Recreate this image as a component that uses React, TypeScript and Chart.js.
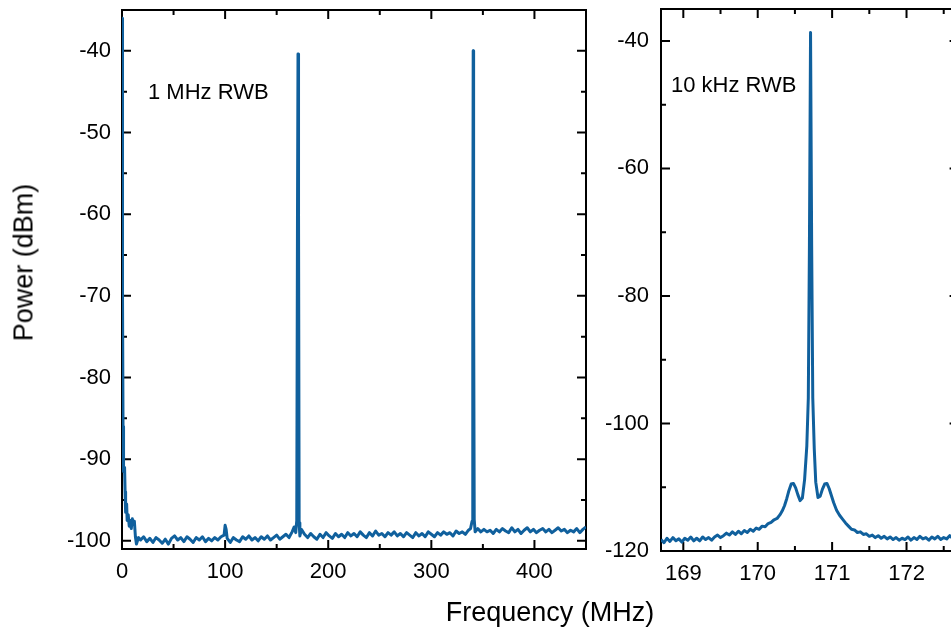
import React, { useEffect, useRef } from 'react';
import { Chart, registerables } from 'chart.js';

Chart.register(...registerables);

const FONT = '"Liberation Sans", Arial, Helvetica, sans-serif';
const LINE_COLOR = '#10609d';

// ---- Left panel (1 MHz RWB) ----
const leftFreqMHz = [
  0, 0.5, 1, 1.5, 2.5, 3, 3.5, 4.5, 5, 6, 7, 8, 9, 10, 11, 12, 13, 14, 16,
  18, 21, 24, 27, 30, 33, 36, 39, 42, 45, 48, 51, 54, 57, 60, 63, 66, 69, 72, 75, 78,
  81, 84, 87, 90, 93, 96, 99, 100, 101, 102, 105, 108, 111, 114, 117, 120, 123, 126,
  129, 132, 135, 138, 141, 144, 147, 150, 153, 156, 159, 162, 165, 167, 168.5, 169.5,
  170.2, 170.7, 171.2, 171.8, 172.5, 174, 177, 180, 183, 186, 189, 192, 195, 198,
  201, 204, 207, 210, 213, 216, 219, 222, 225, 228, 231, 234, 237, 240, 243, 246, 249,
  252, 255, 258, 261, 264, 267, 270, 273, 276, 279, 282, 285, 288, 291, 294, 297, 300,
  303, 306, 309, 312, 315, 318, 321, 324, 327, 330, 333, 336, 338, 339.5, 340.2, 340.6,
  341.0, 341.6, 342.5, 345, 348, 351, 354, 357, 360, 363, 366, 369, 372, 375, 378, 381,
  384, 387, 390, 393, 396, 399, 402, 405, 408, 411, 414, 417, 420, 423, 426, 429, 432,
  435, 438, 441, 444, 447, 450,
];
const leftPowerDbm = [
  -36, -70, -86, -91.5, -91, -94, -96.5, -95.5, -97.5, -96.8, -98.2, -97.5, -98.5, -97.3, -98, -97.6, -99.5, -100.4, -99.6,
  -99.9, -99.5, -100.1, -99.7, -100.2, -99.6, -99.9, -100.3, -99.8, -100.4, -99.7, -99.4, -99.9, -99.6, -100.1, -99.5, -99.8, -100.2, -99.6, -99.9, -99.5,
  -100.1, -99.7, -100.0, -99.6, -99.9, -99.5, -99.3, -98.1, -98.6, -99.7, -100.2, -99.6, -99.9, -100.1, -99.5, -99.8, -99.4, -99.9,
  -99.6, -100.0, -99.5, -99.8, -99.4, -99.9, -99.6, -99.3, -99.8, -99.5, -99.2, -99.6, -98.9, -98.3, -99.0, -97.5,
  -60, -40.4, -60, -97.8, -99.4, -98.6, -99.2, -99.6, -99.1, -99.5, -99.8, -99.2, -99.6, -99.0,
  -99.4, -99.7, -99.1, -99.5, -99.2, -99.6, -99.0, -99.4, -99.1, -99.5, -98.9, -99.3, -99.6, -99.0, -99.4, -98.8, -99.3,
  -99.1, -99.5, -99.0, -99.3, -98.9, -99.4, -99.1, -99.5, -99.0, -99.3, -99.6, -99.0, -99.4, -99.1, -99.5, -98.9, -99.2,
  -99.5, -99.0, -99.3, -98.9, -99.2, -99.0, -99.4, -98.8, -99.1, -98.9, -99.2, -98.7, -98.5, -97.6, -70, -40.0,
  -70, -97.4, -98.9, -98.5, -98.9, -98.6, -98.9, -98.7, -99.1, -98.6, -98.9, -98.5, -98.8, -99.0, -98.4, -98.9,
  -98.6, -99.1, -98.7, -98.4, -98.9, -98.6, -99.0, -98.7, -98.5, -98.9, -98.6, -99.0, -98.7, -98.4, -98.8, -98.6, -99.0,
  -98.7, -98.9, -98.5, -99.0, -98.6, -98.3,
];
const leftXMajor = [0, 100, 200, 300, 400];
const leftXMinor = [50, 150, 250, 350];
const leftYMajor = [-100, -90, -80, -70, -60, -50, -40];
const leftYMinor = [-95, -85, -75, -65, -55, -45];

// ---- Right panel (10 kHz RWB) ----
const rightFreqMHz = [
  168.70, 168.74, 168.78, 168.82, 168.86, 168.90, 168.94, 168.98, 169.02, 169.06, 169.10, 169.14,
  169.18, 169.22, 169.26, 169.30, 169.34, 169.38, 169.42, 169.46, 169.50, 169.54, 169.58, 169.62,
  169.66, 169.70, 169.74, 169.78, 169.82, 169.86, 169.90, 169.94, 169.98, 170.02, 170.06, 170.10,
  170.14, 170.18, 170.22, 170.26, 170.30, 170.33, 170.36, 170.39, 170.42, 170.45, 170.48, 170.51,
  170.54, 170.57, 170.60, 170.63, 170.66, 170.68, 170.695, 170.71, 170.725, 170.74, 170.76, 170.78,
  170.81, 170.84, 170.87, 170.90, 170.93, 170.96, 170.99, 171.02, 171.06, 171.10, 171.14, 171.18,
  171.22, 171.26, 171.30, 171.34, 171.38, 171.42, 171.46, 171.50, 171.54, 171.58, 171.62, 171.66,
  171.70, 171.74, 171.78, 171.82, 171.86, 171.90, 171.94, 171.98, 172.02, 172.06, 172.10, 172.14,
  172.18, 172.22, 172.26, 172.30, 172.34, 172.38, 172.42, 172.46, 172.50, 172.54, 172.58, 172.62,
  172.66, 172.70,
];
const rightPowerDbm = [
  -118.2, -118.7, -118.0, -118.5, -117.9, -118.4, -118.1, -118.6, -118.0, -118.3, -117.8, -118.4,
  -118.0, -118.4, -117.8, -118.2, -117.9, -118.3, -117.8, -117.5, -117.9, -117.6, -117.2, -117.5,
  -117.0, -117.4, -116.9, -117.3, -116.8, -117.1, -116.6, -116.9, -116.4, -116.6, -116.1, -116.2,
  -115.7, -115.5, -115.1, -114.9, -114.3, -113.7, -112.9, -111.8, -110.5, -109.5, -109.4, -110.1,
  -111.2, -112.1, -111.7, -108.8, -103.5, -96, -72, -38.7, -72, -96, -104, -109.2,
  -111.6, -111.4, -110.3, -109.5, -109.4, -110.2, -111.3, -112.4, -113.6, -114.4, -115.0, -115.6,
  -116.1, -116.6, -116.7, -117.1, -117.0, -117.4, -117.3, -117.7, -117.5, -117.9, -117.6, -118.0,
  -117.7, -118.1, -117.8, -118.2, -117.9, -118.3, -118.0, -118.2, -117.8, -118.3, -117.9, -118.2,
  -117.7, -118.1, -117.9, -118.3, -117.8, -118.1, -117.7, -118.2, -117.9, -118.1, -117.6, -118.0,
  -117.8, -118.1,
];
const rightXMajor = [169, 170, 171, 172];
const rightXMinor = [169.5, 170.5, 171.5, 172.5];
const rightYMajor = [-120, -100, -80, -60, -40];
const rightYMinor = [-110, -90, -70, -50];

type PanelCfg = {
  freq: number[];
  power: number[];
  xMin: number; xMax: number; yMin: number; yMax: number;
  xMajor: number[]; xMinor: number[]; yMajor: number[]; yMinor: number[];
  width: number; height: number;
  padTop: number; padRight: number; yAxisWidth: number; xAxisHeight: number;
  yTickPad: number;
};

function framePlugin(c: PanelCfg) {
  return {
    id: 'frameTicks',
    beforeDatasetsDraw(chart: any) {
      const { ctx, chartArea } = chart;
      const { left, right, top, bottom } = chartArea;
      const xs = chart.scales.x;
      const ys = chart.scales.y;
      ctx.save();
      ctx.strokeStyle = '#000';
      ctx.lineWidth = 2;
      ctx.strokeRect(left, top, right - left, bottom - top);
      const MAJ = 9, MIN = 5;
      const xt = (vals: number[], len: number) => {
        vals.forEach((v) => {
          const p = xs.getPixelForValue(v);
          ctx.beginPath();
          ctx.moveTo(p, bottom); ctx.lineTo(p, bottom - len);
          ctx.moveTo(p, top); ctx.lineTo(p, top + len);
          ctx.stroke();
        });
      };
      const yt = (vals: number[], len: number) => {
        vals.forEach((v) => {
          const p = ys.getPixelForValue(v);
          ctx.beginPath();
          ctx.moveTo(left, p); ctx.lineTo(left + len, p);
          ctx.moveTo(right, p); ctx.lineTo(right - len, p);
          ctx.stroke();
        });
      };
      xt(c.xMajor, MAJ); xt(c.xMinor, MIN);
      yt(c.yMajor, MAJ); yt(c.yMinor, MIN);
      ctx.restore();
    },
  };
}

function Panel({ c, style }: { c: PanelCfg; style: React.CSSProperties }) {
  const ref = useRef<HTMLCanvasElement | null>(null);
  useEffect(() => {
    if (!ref.current) return;
    const data = c.freq.map((f, i) => ({ x: f, y: c.power[i] }));
    const tickFont = { family: FONT, size: 22 };
    const chart = new Chart(ref.current, {
      type: 'line',
      data: {
        datasets: [{
          data,
          borderColor: LINE_COLOR,
          borderWidth: 3,
          borderJoinStyle: 'round',
          pointRadius: 0,
          tension: 0,
          fill: false,
        }],
      },
      options: {
        animation: false,
        responsive: false,
        maintainAspectRatio: false,
        devicePixelRatio: 1,
        events: [],
        layout: { padding: { top: c.padTop, right: c.padRight, left: 0, bottom: 0 } },
        plugins: { legend: { display: false }, tooltip: { enabled: false }, title: { display: false } },
        scales: {
          x: {
            type: 'linear',
            min: c.xMin,
            max: c.xMax,
            grid: { display: false, drawTicks: false },
            border: { display: false },
            ticks: { font: tickFont, color: '#000', padding: 10, maxRotation: 0, autoSkip: false },
            afterBuildTicks: (s: any) => { s.ticks = c.xMajor.map((v) => ({ value: v })); },
            afterFit: (s: any) => { s.height = c.xAxisHeight; s.paddingLeft = 0; s.paddingRight = 0; },
          },
          y: {
            type: 'linear',
            min: c.yMin,
            max: c.yMax,
            grid: { display: false, drawTicks: false },
            border: { display: false },
            ticks: { font: tickFont, color: '#000', padding: c.yTickPad, autoSkip: false },
            afterBuildTicks: (s: any) => { s.ticks = c.yMajor.map((v) => ({ value: v })); },
            afterFit: (s: any) => { s.width = c.yAxisWidth; s.paddingTop = 0; s.paddingBottom = 0; },
          },
        },
      } as any,
      plugins: [framePlugin(c)],
    });
    return () => chart.destroy();
  }, [c]);
  return (
    <canvas
      ref={ref}
      width={c.width}
      height={c.height}
      style={{ position: 'absolute', width: c.width, height: c.height, ...style }}
    />
  );
}

const leftCfg: PanelCfg = {
  freq: leftFreqMHz, power: leftPowerDbm,
  xMin: 0, xMax: 450, yMin: -101, yMax: -35,
  xMajor: leftXMajor, xMinor: leftXMinor, yMajor: leftYMajor, yMinor: leftYMinor,
  width: 600, height: 631, padTop: 10, padRight: 14, yAxisWidth: 122, xAxisHeight: 82, yTickPad: 11,
};

const rightCfg: PanelCfg = {
  freq: rightFreqMHz, power: rightPowerDbm,
  xMin: 168.7, xMax: 172.7, yMin: -120, yMax: -35,
  xMajor: rightXMajor, xMinor: rightXMinor, yMajor: rightYMajor, yMinor: rightYMinor,
  width: 380, height: 631, padTop: 9, padRight: 11.4, yAxisWidth: 71, xAxisHeight: 80, yTickPad: 12,
};

export default function App() {
  return (
    <div
      style={{
        position: 'absolute', left: 0, top: 0, width: 951, height: 631,
        overflow: 'hidden', background: '#fff', fontFamily: FONT, color: '#000',
      }}
    >
      <Panel c={leftCfg} style={{ left: 0, top: 0 }} />
      <Panel c={rightCfg} style={{ left: 590, top: 0 }} />
      <div style={{ position: 'absolute', left: 148, top: 81, fontSize: 22, lineHeight: '22px', whiteSpace: 'nowrap' }}>
        1 MHz RWB
      </div>
      <div style={{ position: 'absolute', left: 671, top: 73.5, fontSize: 22, lineHeight: '22px', whiteSpace: 'nowrap' }}>
        10 kHz RWB
      </div>
      <div
        style={{
          position: 'absolute', left: 400, top: 599, width: 300, textAlign: 'center',
          fontSize: 27, lineHeight: '27px', whiteSpace: 'nowrap',
        }}
      >
        Frequency (MHz)
      </div>
      <div
        style={{
          position: 'absolute', left: 24 - 150, top: 262 - 13.5, width: 300, height: 27, textAlign: 'center',
          fontSize: 27, lineHeight: '27px', whiteSpace: 'nowrap', transform: 'rotate(-90deg)',
        }}
      >
        Power (dBm)
      </div>
    </div>
  );
}
